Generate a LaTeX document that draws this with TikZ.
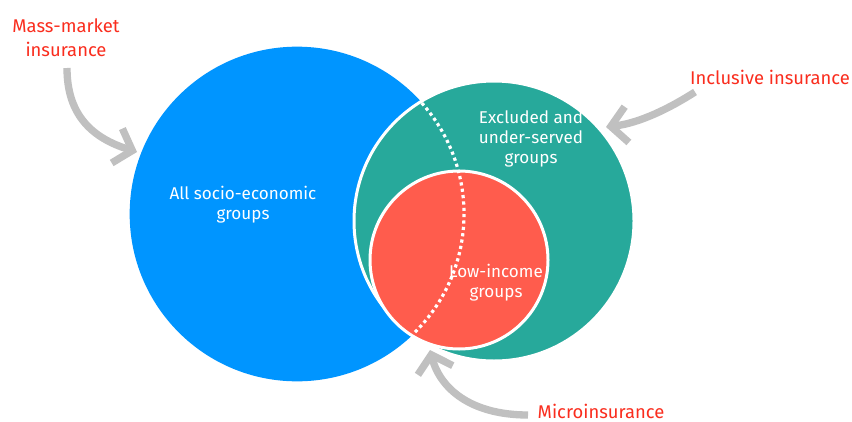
\documentclass[tikz,border=0pt]{standalone}
\usepackage{fontspec}
\setmainfont{Fira Sans}
\usetikzlibrary{arrows.meta}
\definecolor{cblue}{RGB}{0,149,255}
\definecolor{cgreen}{RGB}{39,169,155}
\definecolor{cred}{RGB}{255,92,77}
\definecolor{clabel}{RGB}{250,45,30}
\definecolor{cgray}{RGB}{192,192,192}
\begin{document}
\begin{tikzpicture}[x=0.75pt,y=-0.75pt,
  intext/.style={text=white,align=center,anchor=base,inner sep=0pt,font=\fontsize{12.8}{15}\selectfont},
  redtext/.style={text=clabel,align=center,anchor=base,inner sep=0pt,font=\fontsize{13.8}{18}\selectfont},
  grayarrow/.style={draw=cgray,line width=5.5pt,
    -{Straight Barb[length=12pt,width=27pt,line cap=butt,line join=miter]}},
  venn/.style={circle,inner sep=0pt,outer sep=0pt}]
\useasboundingbox[fill=white] (0,0) rectangle (852,421);
% circles
\node[venn,fill=cblue,minimum size=251pt] (blue) at (297,214) {};
\node[venn,fill=cgreen,draw=white,line width=2.25pt,minimum size=210pt] (green) at (494,221) {};
\node[venn,fill=cred,draw=white,line width=2.25pt,minimum size=133.5pt] (red) at (459,260) {};
% dotted continuation of the blue circle
\begin{scope}
  \clip (green.center) circle[radius=139];
  \draw[white,line width=2.4pt,dash pattern=on 2.4pt off 2.4pt] (blue.center) circle[radius=167];
\end{scope}
% inner texts (anchored at last baseline)
\node[intext,font=\fontsize{12.8}{14.3}\selectfont] (tall) at (243,219) {All socio-economic\\groups};
\node[intext] (texcl) at (531,163) {Excluded and\\under-served\\groups};
\node[intext] (tlow) at (496,297) {Low-income\\groups};
% labels
\node[redtext] (lmass) at (66,56) {Mass-market\\insurance};
\node[redtext] (lincl) at (770,84) {Inclusive insurance};
\node[redtext] (lmicro) at (601,418) {Microinsurance};
% arrows
\coordinate (mmstart) at (67,68);
\coordinate (mmtip) at (137,152);
\coordinate (instart) at (695,92);
\coordinate (intip) at (606,127);
\coordinate (mistart) at (528,415);
\coordinate (mitip) at (430,350);
\draw[grayarrow] (mmstart) .. controls (67,115) and (92,138) .. (mmtip);
\draw[grayarrow] (instart) .. controls (670,108) and (640,123) .. (intip);
\draw[grayarrow] (mistart) .. controls (470,415) and (440,388) .. (mitip);
\end{tikzpicture}
\end{document}
